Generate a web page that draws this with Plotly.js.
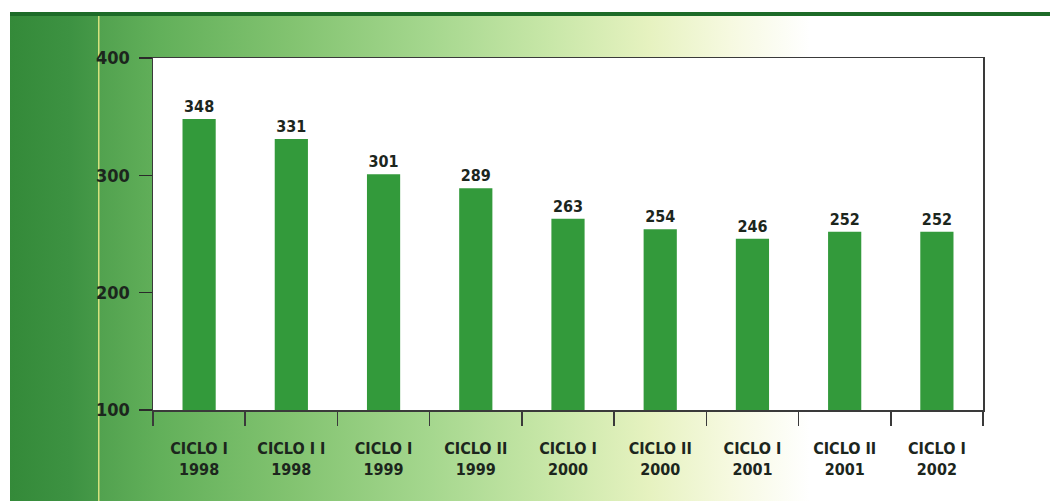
<!DOCTYPE html>
<html>
<head>
<meta charset="utf-8">
<script src="https://cdn.plot.ly/plotly-3.0.1.min.js"></script>
<style>
  html, body { margin: 0; padding: 0; background: #ffffff; }
  #wrap { position: relative; width: 1050px; height: 501px; overflow: hidden; background: #ffffff; }
  #bg {
    position: absolute; left: 10px; top: 12px; width: 1040px; height: 489px;
    border-top: 4px solid #1d6b28;
    box-sizing: border-box;
    background:
      linear-gradient(to right,
        #348a39 0px, #3d9242 60px, #469948 88px,
        #d4e27e 88px, #d4e27e 89px,
        #52a24f 90px, #62b05a 150px, #82c370 280px, #a5d78e 420px,
        #c8e7a8 540px, #e6f2c0 640px, #f6f9e0 720px, #ffffff 800px, #ffffff 1040px);
  }
  #chart { position: absolute; left: 0; top: 0; width: 1050px; height: 501px; }
</style>
</head>
<body>
<div id="wrap">
  <div id="bg"></div>
  <div id="chart"></div>
</div>
<script>
const categories = [
  "CICLO I<br>1998", "CICLO I I<br>1998", "CICLO I<br>1999", "CICLO II<br>1999",
  "CICLO I<br>2000", "CICLO II<br>2000", "CICLO I<br>2001", "CICLO II<br>2001",
  "CICLO I<br>2002"
];
const values = [348, 331, 301, 289, 263, 254, 246, 252, 252];
const yTicks = [100, 200, 300, 400];

const FONT = "'Liberation Sans Narrow', 'DejaVu Sans Condensed', 'Arial Narrow', sans-serif";
const TEXT = "#1c261d";

const trace = {
  type: "bar",
  x: categories,
  y: values,
  marker: { color: "#339a3b", line: { width: 0 } },
  text: values.map(String),
  textposition: "outside",
  cliponaxis: false,
  textfont: { family: FONT, size: 16, color: TEXT, weight: "bold" },
  hoverinfo: "none"
};

const layout = {
  width: 1050, height: 501,
  margin: { l: 153, r: 67, t: 58, b: 91, pad: 0 },
  paper_bgcolor: "rgba(0,0,0,0)",
  plot_bgcolor: "#ffffff",
  showlegend: false,
  bargap: 0.64,
  font: { family: FONT, color: TEXT, weight: "bold" },
  xaxis: {
    type: "category",
    tickson: "boundaries",
    ticks: "outside",
    ticklen: 14,
    tickwidth: 1.5,
    tickcolor: "#3a3a3a",
    showline: true,
    linecolor: "#3a3a3a",
    linewidth: 1.5,
    mirror: true,
    showgrid: false,
    ticklabelstandoff: 23,
    tickfont: { family: FONT, size: 16, color: TEXT, weight: "bold" },
    fixedrange: true
  },
  yaxis: {
    range: [100, 400],
    tickvals: yTicks,
    ticktext: yTicks.map(String),
    ticks: "outside",
    ticklen: 13,
    tickwidth: 1.5,
    tickcolor: "#2a2a2a",
    showline: true,
    linecolor: "#3a3a3a",
    linewidth: 1.5,
    mirror: true,
    showgrid: false,
    zeroline: false,
    ticklabelstandoff: 5,
    tickfont: { family: FONT, size: 18, color: TEXT, weight: "bold" },
    fixedrange: true
  }
};

Plotly.newPlot("chart", [trace], layout, { displayModeBar: false, staticPlot: true });
</script>
</body>
</html>
